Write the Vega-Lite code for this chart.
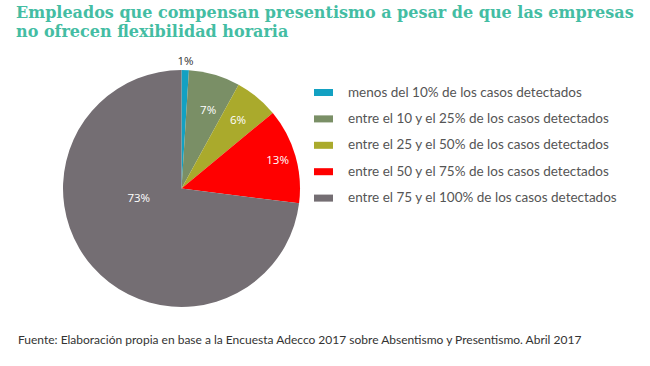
{
  "$schema": "https://vega.github.io/schema/vega-lite/v6.json",
  "background": "white",
  "padding": {"left": 16, "top": 5, "right": 0, "bottom": 0},
  "config": {"view": {"stroke": null}},
  "title": {
    "text": ["Empleados que compensan presentismo a pesar de que las empresas", "no ofrecen flexibilidad horaria"],
    "anchor": "start",
    "font": "DejaVu Serif",
    "fontSize": 16,
    "fontWeight": "bold",
    "color": "#44bda3",
    "lineHeight": 19,
    "offset": 15.5
  },
  "vconcat": [
    {
      "width": 331,
      "height": 237,
      "title": {
        "text": "Fuente: Elaboración propia en base a la Encuesta Adecco 2017 sobre Absentismo y Presentismo. Abril 2017",
        "orient": "bottom",
        "anchor": "start",
        "font": "Lato",
        "fontSize": 12,
        "fontWeight": "normal",
        "color": "#333333",
        "offset": 28,
        "dx": 2
      },
      "data": {
        "values": [
          {"cat": "menos del 10% de los casos detectados", "value": 1, "label": "1%", "order": 1},
          {"cat": "entre el 10 y el 25% de los casos detectados", "value": 7, "label": "7%", "order": 2},
          {"cat": "entre el 25 y el 50% de los casos detectados", "value": 6, "label": "6%", "order": 3},
          {"cat": "entre el 50 y el 75% de los casos detectados", "value": 13, "label": "13%", "order": 4},
          {"cat": "entre el 75 y el 100% de los casos detectados", "value": 73, "label": "73%", "order": 5}
        ]
      },
      "encoding": {
        "theta": {"field": "value", "type": "quantitative", "stack": true},
        "order": {"field": "order", "type": "quantitative"},
        "detail": {"field": "cat", "type": "nominal"}
      },
      "layer": [
        {
          "mark": {"type": "arc"},
          "encoding": {
            "color": {
              "field": "cat",
              "type": "nominal",
              "sort": null,
              "scale": {
                "domain": [
                  "menos del 10% de los casos detectados",
                  "entre el 10 y el 25% de los casos detectados",
                  "entre el 25 y el 50% de los casos detectados",
                  "entre el 50 y el 75% de los casos detectados",
                  "entre el 75 y el 100% de los casos detectados"
                ],
                "range": ["#13a1c2", "#7a8f66", "#aaaa2c", "#ff0000", "#746e73"]
              },
              "legend": {
                "title": null,
                "orient": "none",
                "legendX": 298,
                "legendY": 13,
                "padding": 0,
                "symbolType": "M-1,-0.37H1V0.37H-1Z",
                "symbolSize": 361,
                "symbolStrokeWidth": 0,
                "labelFont": "Lato",
                "labelFontSize": 13.5,
                "labelColor": "#555555",
                "labelOffset": 15,
                "labelLimit": 400,
                "rowPadding": 10.4
              }
            }
          }
        },
        {
          "mark": {"type": "text", "radius": 81, "dx": 4, "font": "Open Sans", "fontSize": 11.5},
          "encoding": {
            "color": {"value": "white"},
            "text": {"condition": {"test": "datum.order == 2", "field": "label"}, "value": ""}
          }
        },
        {
          "mark": {"type": "text", "radius": 84, "dx": 3, "dy": -3, "font": "Open Sans", "fontSize": 11.5},
          "encoding": {
            "color": {"value": "white"},
            "text": {"condition": {"test": "datum.order == 3", "field": "label"}, "value": ""}
          }
        },
        {
          "mark": {"type": "text", "radius": 99, "dx": 1, "font": "Open Sans", "fontSize": 11.5},
          "encoding": {
            "color": {"value": "white"},
            "text": {"condition": {"test": "datum.order == 4", "field": "label"}, "value": ""}
          }
        },
        {
          "mark": {"type": "text", "radius": 127, "font": "Open Sans", "fontSize": 11.5},
          "encoding": {
            "color": {"value": "#333333"},
            "text": {"condition": {"test": "datum.order == 1", "field": "label"}, "value": ""}
          }
        },
        {
          "mark": {"type": "text", "radius": 45, "dx": -9, "dy": -19, "font": "Open Sans", "fontSize": 11.5},
          "encoding": {
            "color": {"value": "white"},
            "text": {"condition": {"test": "datum.order == 5", "field": "label"}, "value": ""}
          }
        }
      ]
    }
  ]
}
